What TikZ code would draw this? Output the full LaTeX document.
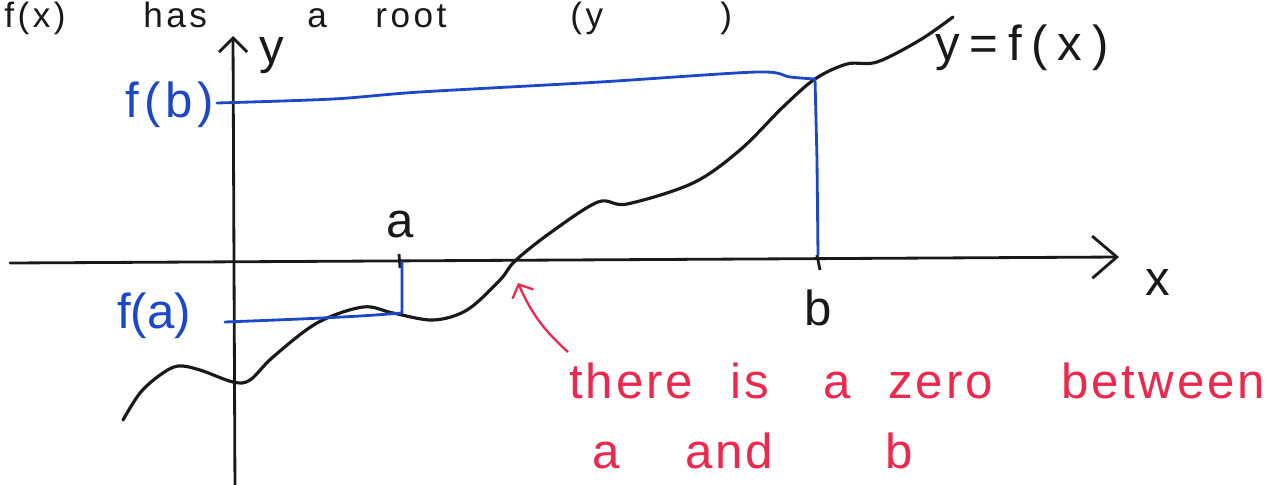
\documentclass[tikz,border=0pt]{standalone}
\usepackage{fontspec}
\setmainfont{Liberation Sans}
\usepackage{xcolor}
\definecolor{penBlue}{RGB}{28, 72, 200}
\definecolor{penRed}{RGB}{238, 40, 76}
\definecolor{penBlack}{RGB}{25, 25, 25}
\usetikzlibrary{arrows.meta, positioning}

\begin{document}
\begin{tikzpicture}[x=0.02cm, y=-0.02cm,
  axis/.style={penBlack, line width=1.6pt, line cap=round},
  graph/.style={penBlack, line width=1.8pt, line cap=round, line join=round},
  guide/.style={penBlue, line width=1.6pt, line cap=round, line join=round},
  tickmark/.style={penBlack, line width=1.6pt},
  hand/.style={font=\fontsize{28}{30}\selectfont, inner sep=0pt, text=penBlack},
  heading/.style={font=\fontsize{20}{22}\selectfont\addfontfeature{LetterSpace=10}, inner sep=0pt, text=penBlack, anchor=base west},
  bluelabel/.style={hand, text=penBlue},
  redword/.style={hand, font=\fontsize{28}{30}\selectfont\addfontfeature{LetterSpace=6}, text=penRed, anchor=base west},
  pointer/.style={penRed, line width=1.3pt, -{Straight Barb[length=6pt, width=13pt]}},
]
  \useasboundingbox (0,0) rectangle (1288,484);
  \clip (0,0) rectangle (1288,484);

  % heading along the top edge
  \node[heading] (hfx) at (4,27) {f(x)};
  \node[heading] (hhas) at (143,27) {has};
  \node[heading] (ha) at (307,27) {a};
  \node[heading] (hroot) at (375,27) {root};
  \node[heading] (hpar) at (570,27) {(y};
  \node[heading] (hend) at (720,27) {)};

  % axes
  \coordinate (xl) at (10,263);
  \coordinate (xr) at (1119,257);
  \coordinate (yb) at (235,494);
  \coordinate (yt) at (233,36);
  \draw[axis, -{Straight Barb[length=14pt, width=24pt]}] (xl) -- (xr);
  \draw[axis, -{Straight Barb[length=8pt, width=16pt]}] (yb) -- (yt);
  \node[hand] (xlab) at (1158,282) {x};
  \node[hand] (ylab) at (272,56) {y};

  % ticks at a and b
  \coordinate (ta) at (399,254);
  \coordinate (tb) at (817,255);
  \draw[tickmark] (ta) -- ++(1,14);
  \draw[tickmark] (tb) -- ++(3,15);
  \node[hand] (alab) at (400,224) {a};
  \node[hand] (blab) at (818,308) {b};

  % the function
  \draw[graph] plot[smooth, tension=0.55] coordinates {
    (123,420) (140,393) (160,375) (178,366) (200,370) (233,382) (250,380)
    (273,357) (317,323) (363,307) (393,313) (433,320) (467,310) (500,280)
    (515,261) (550,233) (598,202) (627,204) (693,183) (740,150) (783,107)
    (815,79) (847,64) (877,62) (920,40) (953,17)};
  \node[hand, font=\fontsize{28}{30}\selectfont\addfontfeature{LetterSpace=20}] (curvelab) at (1022,48) {y=f(x)};

  % f(a) and f(b) guides
  \node[bluelabel] (fa) at (154,316) {f(a)};
  \node[bluelabel, font=\fontsize{28}{30}\selectfont\addfontfeature{LetterSpace=10}] (fb) at (170,105) {f(b)};
  \draw[guide] plot[smooth] coordinates {(225,322) (300,319) (360,316) (402,313)} -- (402,262);
  \draw[guide] plot[smooth] coordinates {(217,103) (333,99) (420,92) (600,82) (757,72) (790,77) (815,79)}
    -- (817,160) -- (818,255);

  % the zero
  \coordinate (zero) at (518,283);
  \coordinate (tail) at (568,352);
  \draw[pointer] (tail) to[bend left=12] (zero);

  \node[redword] (w1) at (569,398) {there};
  \node[redword] (w2) at (730,398) {is};
  \node[redword] (w3) at (823,398) {a};
  \node[redword] (w4) at (888,398) {zero};
  \node[redword] (w5) at (1061,398) {between};
  \node[redword] (w6) at (592,468) {a};
  \node[redword] (w7) at (685,468) {and};
  \node[redword] (w8) at (885,468) {b};
\end{tikzpicture}
\end{document}
